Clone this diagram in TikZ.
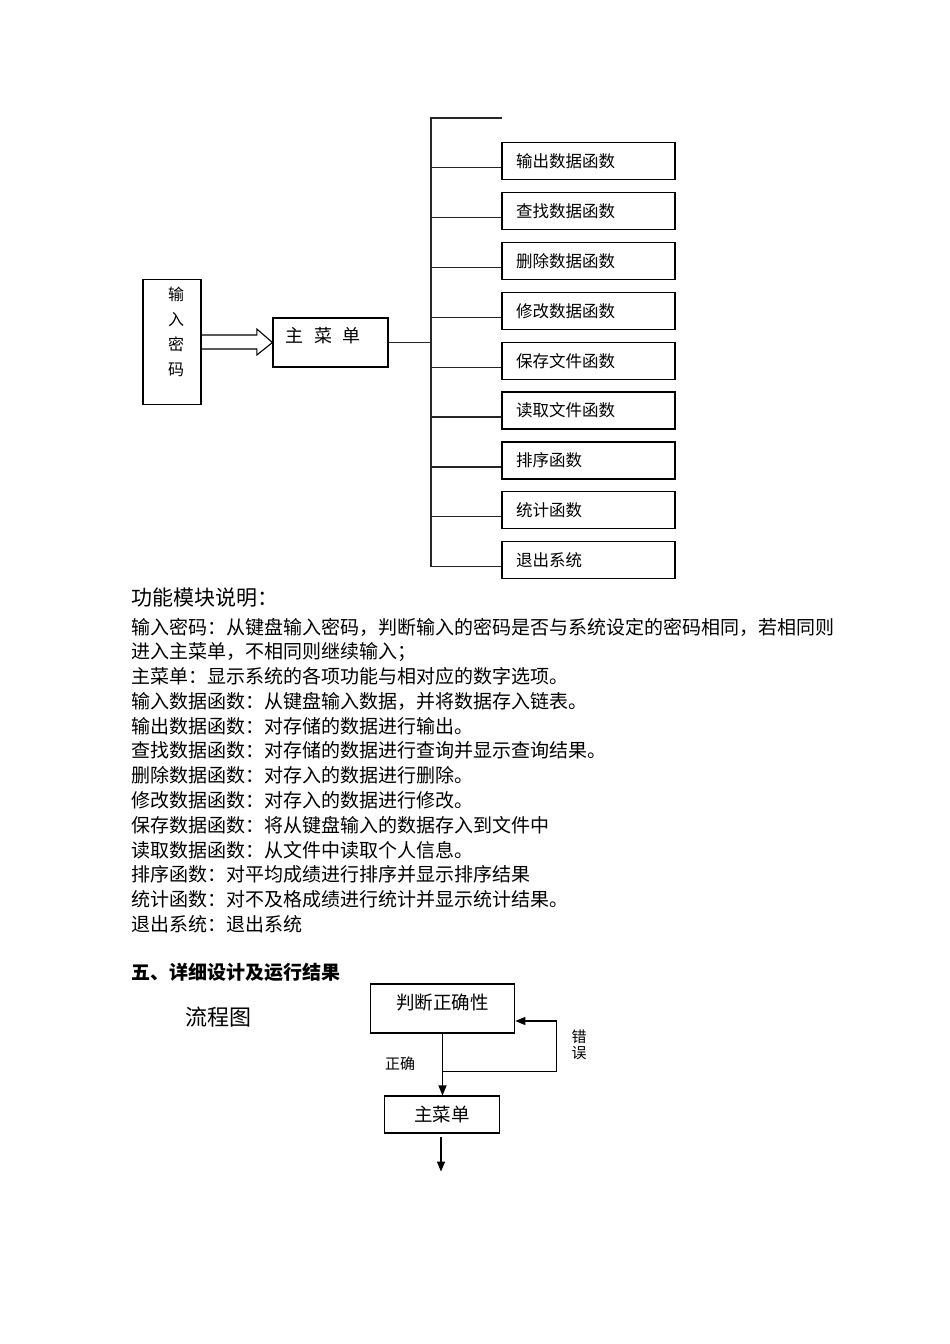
\documentclass[tikz,border=0pt]{standalone}
\usepackage{fontspec}
\setmainfont{Noto Sans CJK SC}
\usetikzlibrary{calc,arrows.meta}

\begin{document}
\begin{tikzpicture}[x=1pt, y=-1pt, line width=1pt]
    \tikzstyle{box} = [draw, rectangle, line width=1.1pt, inner sep=0pt]
    \tikzstyle{func} = [box, minimum width=173pt, minimum height=37pt, text width=145pt, inner xsep=14pt, align=left, font=\fontsize{16.5}{20}\selectfont]
    \tikzstyle{desc} = [anchor=west, inner sep=0pt, font=\fontsize{19}{24}\selectfont]
    \tikzstyle{link} = [line width=1.1pt, black!85]
    \tikzstyle{arr} = [-{Triangle[length=10pt,width=8pt]}, line width=1.2pt]
    \useasboundingbox (0,0) rectangle (950,1344);

    % password box and main menu
    \node[box, line width=1.6pt, minimum width=58pt, minimum height=125pt, align=center, text depth=21pt, font=\fontsize{16}{25}\selectfont] (pw) at (172,342) {\hspace*{8pt}输\\\hspace*{8pt}入\\\hspace*{8pt}密\\\hspace*{8pt}码};
    \node[box, minimum width=115pt, minimum height=49pt, text width=91pt, inner xsep=12pt, align=left, text depth=15pt, font=\fontsize{18}{20}\selectfont] (menu) at (330.5,342.5) {主\hspace{11pt}菜\hspace{11pt}单};
    \draw[line width=1.1pt] ($(pw.east)+(0,-7)$) -- ++(55,0) -- ++(0,-6) -- (menu.west)
        -- ($(pw.east)+(55,13)$) -- ++(0,-6) -- ($(pw.east)+(0,7)$);

    % bus
    \coordinate (top) at (431,118);
    \coordinate (stub) at (502,118);
    \coordinate (bot) at (431,567);
    \draw[link] (stub) -- (top) -- (bot);
    \draw[link] (menu.east) -- (menu.east -| top);

    % function boxes
    \node[func] (f1) at (588.5,161) {输出数据函数};
    \node[func] (f2) at (588.5,211) {查找数据函数};
    \node[func] (f3) at (588.5,261) {删除数据函数};
    \node[func] (f4) at (588.5,311) {修改数据函数};
    \node[func] (f5) at (588.5,361) {保存文件函数};
    \node[func] (f6) at (588.5,410.5) {读取文件函数};
    \node[func] (f7) at (588.5,460.5) {排序函数};
    \node[func] (f8) at (588.5,510) {统计函数};
    \node[func] (f9) at (588.5,560) {退出系统};

    \coordinate (j1) at ($(f1.west)+(0,6.5)$);
    \coordinate (j2) at ($(f2.west)+(0,6.5)$);
    \coordinate (j3) at ($(f3.west)+(0,6.5)$);
    \coordinate (j4) at ($(f4.west)+(0,6.5)$);
    \coordinate (j5) at ($(f5.west)+(0,6.5)$);
    \coordinate (j6) at ($(f6.west)+(0,6.5)$);
    \coordinate (j7) at ($(f7.west)+(0,6.5)$);
    \coordinate (j8) at ($(f8.west)+(0,6.5)$);
    \coordinate (j9) at ($(f9.west)+(0,6.5)$);
    \draw[link] (j1 -| top) -- (j1);
    \draw[link] (j2 -| top) -- (j2);
    \draw[link] (j3 -| top) -- (j3);
    \draw[link] (j4 -| top) -- (j4);
    \draw[link] (j5 -| top) -- (j5);
    \draw[link] (j6 -| top) -- (j6);
    \draw[link] (j7 -| top) -- (j7);
    \draw[link] (j8 -| top) -- (j8);
    \draw[link] (j9 -| top) -- (j9);

    % module description
    \node[desc, font=\fontsize{21}{24}\selectfont] (t0) at (131,598) {功能模块说明：};
    \node[desc] (t1) at (131,627) {输入密码：从键盘输入密码，判断输入的密码是否与系统设定的密码相同，若相同则};
    \node[desc] (t2) at (131,651.75) {进入主菜单，不相同则继续输入；};
    \node[desc] (t3) at (131,676.5) {主菜单：显示系统的各项功能与相对应的数字选项。};
    \node[desc] (t4) at (131,701.25) {输入数据函数：从键盘输入数据，并将数据存入链表。};
    \node[desc] (t5) at (131,726) {输出数据函数：对存储的数据进行输出。};
    \node[desc] (t6) at (131,750.75) {查找数据函数：对存储的数据进行查询并显示查询结果。};
    \node[desc] (t7) at (131,775.5) {删除数据函数：对存入的数据进行删除。};
    \node[desc] (t8) at (131,800.25) {修改数据函数：对存入的数据进行修改。};
    \node[desc] (t9) at (131,825) {保存数据函数：将从键盘输入的数据存入到文件中};
    \node[desc] (t10) at (131,849.75) {读取数据函数：从文件中读取个人信息。};
    \node[desc] (t11) at (131,874.5) {排序函数：对平均成绩进行排序并显示排序结果};
    \node[desc] (t12) at (131,899.25) {统计函数：对不及格成绩进行统计并显示统计结果。};
    \node[desc] (t13) at (131,924) {退出系统：退出系统};

    % flow chart
    \node[desc, font=\bfseries\fontsize{19}{22}\selectfont] (sec5) at (131,972) {五、详细设计及运行结果};
    \node[desc, font=\fontsize{22}{24}\selectfont] (flow) at (185,1017) {流程图};
    \node[box, line width=1.6pt, minimum width=144pt, minimum height=49pt, text depth=14pt, font=\fontsize{18.5}{20}\selectfont] (judge) at (442.5,1008.5) {判断正确性};
    \node[box, minimum width=115pt, minimum height=37pt, font=\fontsize{18.5}{20}\selectfont] (menu2) at (442,1114.5) {主菜单};
    \coordinate (fork) at ($(judge.south)+(0,38)$);
    \coordinate (turn) at ($(fork)+(114,0)$);
    \coordinate (back) at ($(judge.east)+(0,12.5)$);
    \coordinate (out) at ($(menu2.south)+(-1,38)$);
    \draw[arr] (judge.south) -- (judge.south |- menu2.north);
    \draw[arr] (fork) -- (turn) |- (back);
    \draw[arr, shorten <=3pt] (menu2.south -| out) -- (out);
    \node[inner sep=0pt, font=\fontsize{15}{16}\selectfont] (ok) at (400,1064) {正确};
    \node[inner sep=0pt, align=center, font=\fontsize{15}{16}\selectfont] (err) at (579,1045) {错\\误};
\end{tikzpicture}
\end{document}
